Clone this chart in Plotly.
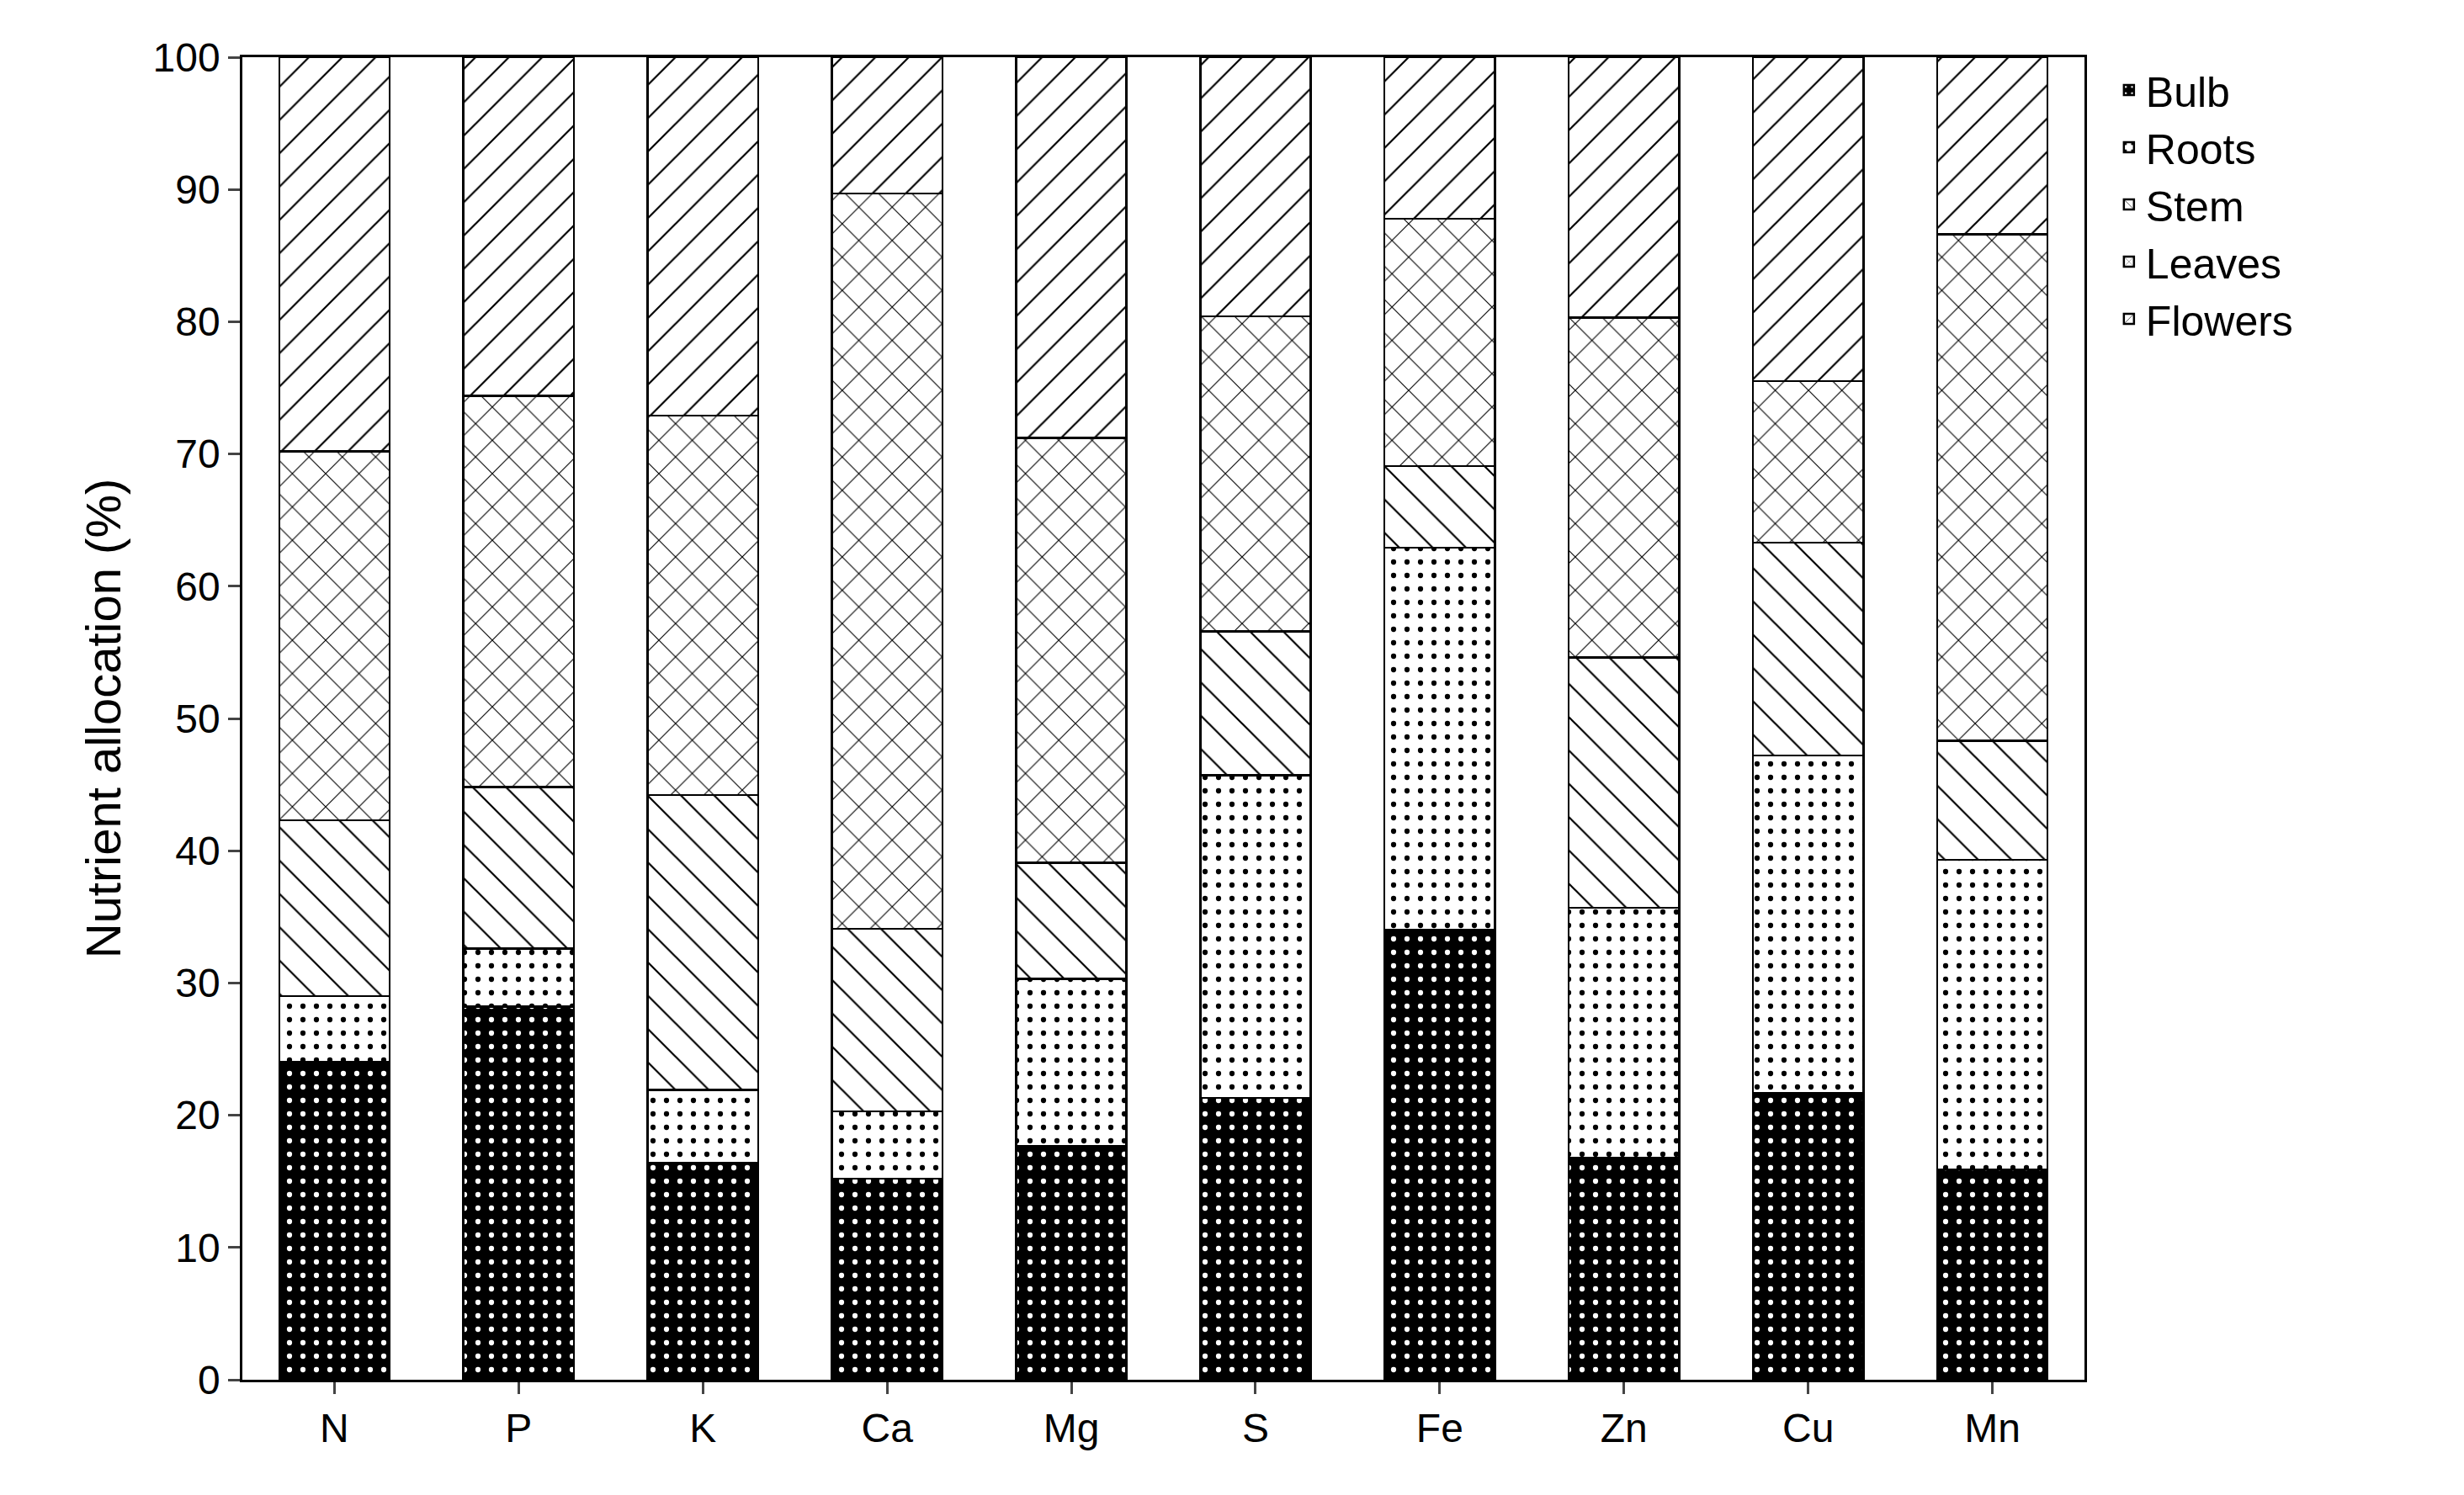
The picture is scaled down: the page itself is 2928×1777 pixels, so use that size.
import plotly.graph_objects as go

nutrients = ["N", "P", "K", "Ca", "Mg", "S", "Fe", "Zn", "Cu", "Mn"]

# cumulative tops (%)
bulb_top = [24.0, 28.2, 16.4, 15.2, 17.7, 21.3, 34.0, 16.8, 21.7, 15.9]
roots_top = [29.0, 32.6, 21.9, 20.3, 30.3, 45.7, 62.9, 35.7, 47.2, 39.3]
stem_top = [42.3, 44.8, 44.2, 34.1, 39.1, 56.6, 69.1, 54.6, 63.3, 48.3]
leaves_top = [70.2, 74.4, 72.9, 89.7, 71.2, 80.4, 87.8, 80.3, 75.5, 86.6]
flowers_top = [100] * 10

bulb = bulb_top
roots = [b - a for a, b in zip(bulb_top, roots_top)]
stem = [b - a for a, b in zip(roots_top, stem_top)]
leaves = [b - a for a, b in zip(stem_top, leaves_top)]
flowers = [b - a for a, b in zip(leaves_top, flowers_top)]

series = [
    ("Bulb", bulb, ".", "black", "white"),
    ("Roots", roots, ".", "white", "black"),
    ("Stem", stem, "\\", "white", "black"),
    ("Leaves", leaves, "x", "white", "black"),
    ("Flowers", flowers, "/", "white", "black"),
]

fig = go.Figure()
for name, vals, shape, bg, fg in series:
    fig.add_trace(go.Bar(
        x=nutrients, y=vals, name=name, width=0.6,
        marker=dict(color=bg, line=dict(color="black", width=2.5),
                    pattern=dict(shape=shape, bgcolor=bg, fgcolor=fg,
                                 size=28 if shape != "." else 16,
                                 solidity=0.08 if shape != "." else 0.12,
                                 fillmode="replace")),
    ))

fig.update_layout(
    barmode="stack",
    width=2928, height=1777,
    margin=dict(l=280, r=459, t=60, b=145),
    plot_bgcolor="white", paper_bgcolor="white",
    font=dict(family="Arial, Liberation Sans", size=48, color="black"),
    legend=dict(traceorder="normal", x=1.015, y=1.0, xanchor="left", yanchor="top",
                font=dict(size=50), bgcolor="rgba(0,0,0,0)"),
    xaxis=dict(showline=True, linecolor="black", linewidth=2.5, mirror=True,
               ticks="outside", ticklen=14, tickwidth=2.5),
    yaxis=dict(range=[0, 100], dtick=10, showline=True, linecolor="black",
               linewidth=2.5, mirror=True, ticks="outside", ticklen=14,
               tickwidth=2.5, showgrid=False, zeroline=False,
               title=dict(text="Nutrient allocation (%)", font=dict(size=58), standoff=20)),
)

fig.write_html("out.html")
